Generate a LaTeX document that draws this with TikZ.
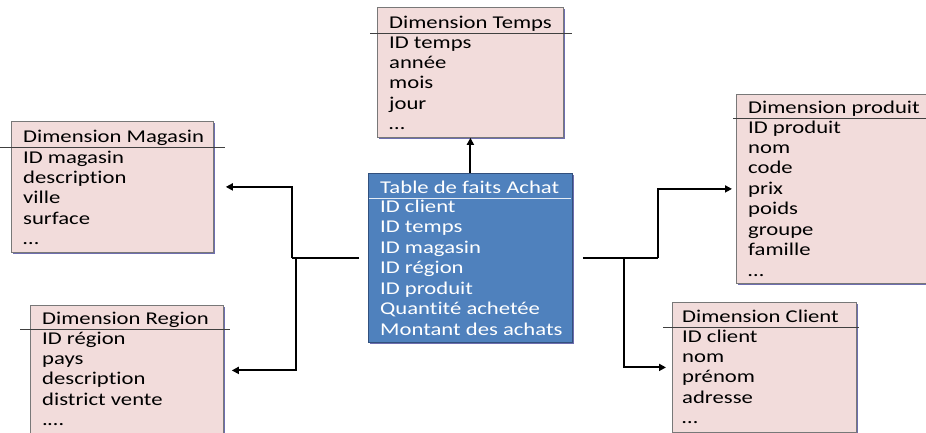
\documentclass[tikz,border=0pt]{standalone}
\usepackage{fontspec}
\setmainfont{Carlito}[FakeStretch=1.26, Ligatures=NoCommon]
\usetikzlibrary{arrows.meta,shadows}

\definecolor{dimrose}{RGB}{242,220,219}
\definecolor{dimbord}{RGB}{120,120,120}
\definecolor{ombre}{RGB}{110,110,175}
\definecolor{faitbleu}{RGB}{79,129,189}
\definecolor{faitbord}{RGB}{50,80,125}

\begin{document}
\begin{tikzpicture}[x=1pt, y=-1pt,
    every node/.style={font=\fontsize{18}{20}\selectfont, inner sep=0pt},
    table/.style={draw=dimbord, fill=dimrose, line width=0.8pt, anchor=north west,
      drop shadow={shadow xshift=1.6pt, shadow yshift=-1.6pt, fill=ombre, opacity=1}},
    fait/.style={table, draw=faitbord, fill=faitbleu},
    champ/.style={anchor=base west},
    entete/.style={draw=black!75, line width=0.6pt},
    lien/.style={line width=2pt},
    fleche/.style={lien, -{Triangle[length=7pt,width=7pt]}}]
    \useasboundingbox (0,0) rectangle (926,432);
    \clip (0,0) rectangle (926,432);

    % Dimension Temps
    \node[table, minimum width=186pt, minimum height=130pt] (temps) at (377,7) {};
    \draw[entete] (370,33) -- (572,33);
    \node[champ] (temps-titre) at (389,28) {Dimension Temps};
    \foreach \t [count=\i] in {ID temps, année, mois, jour, {\ldots}}
        \node[champ] (temps-\i) at (389,{48+20.4*(\i-1)}) {\t};

    % Dimension Magasin
    \node[table, minimum width=202pt, minimum height=131pt] (magasin) at (11,121) {};
    \draw[entete] (0,147) -- (225,147);
    \node[champ] (magasin-titre) at (23,142) {Dimension Magasin};
    \foreach \t [count=\i] in {ID magasin, description, ville, surface, {\ldots}}
        \node[champ] (magasin-\i) at (23,{163+20.4*(\i-1)}) {\t};

    % Dimension Region
    \node[table, minimum width=193pt, minimum height=130pt] (region) at (30,305) {};
    \draw[entete] (20,329) -- (230,329);
    \node[champ] (region-titre) at (42,324) {Dimension Region};
    \foreach \t [count=\i] in {ID région, pays, description, district vente, {.\ldots}}
        \node[champ] (region-\i) at (42,{344+20.4*(\i-1)}) {\t};

    % Table de faits
    \node[fait, minimum width=204pt, minimum height=169pt] (achat) at (368,173) {};
    \draw[entete, draw=white!85!faitbleu] (369,198) -- (571,198);
    \node[champ, text=white] (achat-titre) at (380,193) {Table de faits Achat};
    \foreach \t [count=\i] in {ID client, ID temps, ID magasin, ID région, ID produit,
        Quantité achetée, Montant des achats}
        \node[champ, text=white] (achat-\i) at (380,{212.5+20.45*(\i-1)}) {\t};

    % Dimension produit
    \node[table, minimum width=214pt, minimum height=189pt] (produit) at (736,94) {};
    \draw[entete] (733,118) -- (940,118);
    \node[champ] (produit-titre) at (748,113) {Dimension produit};
    \foreach \t [count=\i] in {ID produit, nom, code, prix, poids, groupe, famille, {\ldots}}
        \node[champ] (produit-\i) at (748,{133+20.45*(\i-1)}) {\t};

    % Dimension Client
    \node[table, minimum width=184pt, minimum height=130pt] (client) at (672,302) {};
    \draw[entete] (663,327) -- (859,327);
    \node[champ] (client-titre) at (682,322) {Dimension Client};
    \foreach \t [count=\i] in {ID client, nom, prénom, adresse, {\ldots}}
        \node[champ] (client-\i) at (682,{342+20.4*(\i-1)}) {\t};

    % Liens
    \coordinate (jg) at ([xshift=-74pt]achat.west);
    \coordinate (jd) at ([xshift=51pt]achat.east);
    \coordinate (jp) at ([xshift=85pt]achat.east);

    \draw[fleche] (achat.north) -- (temps.south);

    \draw[lien, shorten <=9pt] (achat.west) -- ([xshift=-2pt]jg);
    \draw[fleche, shorten >=12pt] ([xshift=-2pt]jg) |- (magasin.east);
    \draw[fleche, shorten >=8pt] ([xshift=2pt]jg) |- (region.east);

    \draw[lien, shorten <=10pt] (achat.east) -- (jp);
    \draw[fleche, shorten >=4pt] (jp) |- (produit.west);
    \draw[fleche, shorten >=6pt] (jd) |- (client.west);
\end{tikzpicture}
\end{document}
